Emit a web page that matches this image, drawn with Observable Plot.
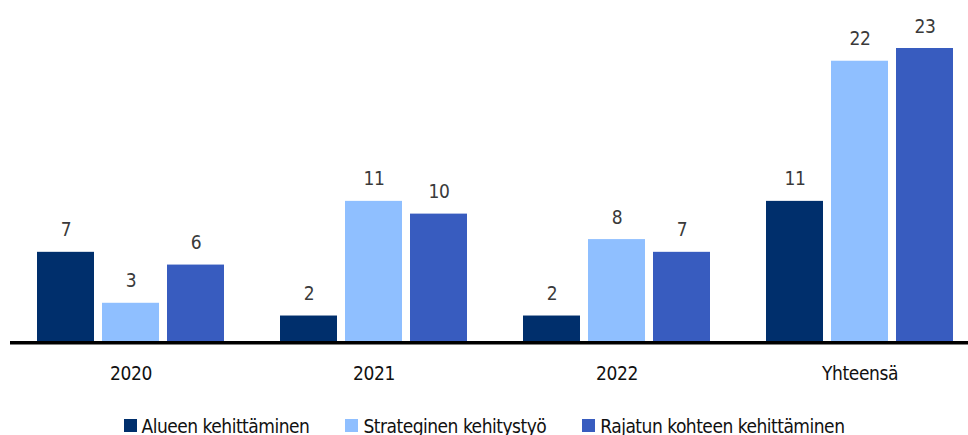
<!DOCTYPE html>
<html>
<head>
<meta charset="utf-8">
<script src="https://cdn.jsdelivr.net/npm/d3@7"></script>
<script src="https://cdn.jsdelivr.net/npm/@observablehq/plot@0.6"></script>
<style>
  html, body { margin: 0; padding: 0; background: #fff; }
  #chart { width: 968px; }
  svg text { font-stretch: condensed; letter-spacing: -0.4px; }
  .legend { display: flex; justify-content: center; align-items: center; gap: 36px; height: 35px; margin-top: 8px;
            font-family: "DejaVu Sans", sans-serif; font-stretch: condensed; font-size: 19px; letter-spacing: -0.5px; color: #111; }
  .legend .item { display: flex; align-items: center; gap: 5px; }
  .legend .sw { width: 13px; height: 13px; display: inline-block; }
</style>
</head>
<body>
<div id="chart"></div>
<script>
const groups = ["2020", "2021", "2022", "Yhteensä"];
const series = ["Alueen kehittäminen", "Strateginen kehitystyö", "Rajatun kohteen kehittäminen"];
const alueen = [7, 2, 2, 11];
const strateginen = [3, 11, 8, 22];
const rajatun = [6, 10, 7, 23];
const colors = ["#002f6c", "#8fbfff", "#385cbf"];

const seriesValues = [alueen, strateginen, rajatun];
const data = [];
groups.forEach((g, gi) => {
  series.forEach((s, si) => data.push({group: g, series: s, value: seriesValues[si][gi]}));
});

const font = '"DejaVu Sans", sans-serif';

const plot = Plot.plot({
  width: 968,
  height: 400,
  marginLeft: 10,
  marginRight: 0,
  marginTop: 48,
  marginBottom: 59,
  style: {fontFamily: font, fontSize: "19px", color: "#111", background: "#fff"},
  fx: {domain: groups, paddingInner: 0.156, paddingOuter: 0.049, align: 0.77, label: null, tickSize: 0, tickPadding: 25},
  x: {domain: series, padding: 0.13, axis: null},
  y: {domain: [0, 23], axis: null},
  color: {domain: series, range: colors},
  marks: [
    Plot.barY(data, {fx: "group", x: "series", y: "value", fill: "series"}),
    Plot.text(data, {fx: "group", x: "series", y: "value", text: d => String(d.value), dy: -16, lineAnchor: "bottom", fill: "#3a3a3a", fontSize: 19})
  ]
});

const y0 = plot.scale("y").apply(0);
d3.select(plot).append("line")
  .attr("x1", 10).attr("x2", 968)
  .attr("y1", y0 + 1.75).attr("y2", y0 + 1.75)
  .attr("stroke", "#000").attr("stroke-width", 3.5);

document.getElementById("chart").appendChild(plot);

const legend = document.createElement("div");
legend.className = "legend";
series.forEach((s, i) => {
  const item = document.createElement("div");
  item.className = "item";
  const sw = document.createElement("span");
  sw.className = "sw";
  sw.style.background = colors[i];
  const t = document.createElement("span");
  t.textContent = s;
  item.appendChild(sw); item.appendChild(t);
  legend.appendChild(item);
});
document.getElementById("chart").appendChild(legend);
</script>
</body>
</html>
